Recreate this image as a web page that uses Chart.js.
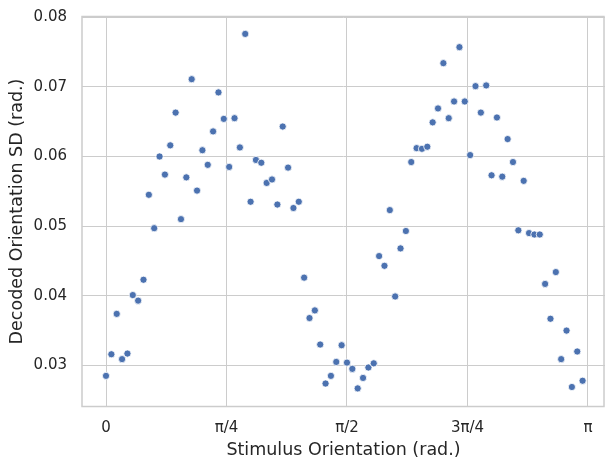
<!DOCTYPE html>
<html>
<head>
<meta charset="utf-8">
<script src="https://cdn.jsdelivr.net/npm/chart.js@4"></script>
<style>
  body { margin: 0; background: #ffffff; }
  #caja { width: 605px; height: 460px; position: relative; }
</style>
</head>
<body>
<div id="caja"><canvas id="grafica"></canvas></div>
<script>
// orientacion del estimulo en grados (paso de 2 grados)
const stimulusDeg = [
  0, 2, 4, 6, 8, 10, 12, 14, 16, 18, 20, 22, 24, 26, 28, 30, 32, 34, 36, 38,
  40, 42, 44, 46, 48, 50, 52, 54, 56, 58, 60, 62, 64, 66, 68, 70, 72, 74, 76, 78,
  80, 82, 84, 86, 88, 90, 92, 94, 96, 98, 100, 102, 104, 106, 108, 110, 112, 114, 116, 118,
  120, 122, 124, 126, 128, 130, 132, 134, 136, 138, 140, 142, 144, 146, 148, 150, 152, 154, 156, 158,
  160, 162, 164, 166, 168, 170, 172, 174, 176, 178
];

// desviacion estandar decodificada (rad.)
const decodedSD = [
  0.0285, 0.0316, 0.0374, 0.0309, 0.0317, 0.0401, 0.0393, 0.0423, 0.0545, 0.0497,
  0.0600, 0.0574, 0.0616, 0.0663, 0.0510, 0.0570, 0.0711, 0.0551, 0.0609, 0.0588,
  0.0636, 0.0692, 0.0654, 0.0585, 0.0655, 0.0613, 0.0776, 0.0535, 0.0595, 0.0591,
  0.0562, 0.0567, 0.0531, 0.0643, 0.0584, 0.0526, 0.0535, 0.0426, 0.0368, 0.0379,
  0.0330, 0.0274, 0.0285, 0.0305, 0.0329, 0.0304, 0.0295, 0.0267, 0.0282, 0.0297,
  0.0303, 0.0457, 0.0443, 0.0523, 0.0399, 0.0468, 0.0493, 0.0592, 0.0612, 0.0611,
  0.0614, 0.0649, 0.0669, 0.0734, 0.0655, 0.0679, 0.0757, 0.0679, 0.0602, 0.0701,
  0.0663, 0.0702, 0.0573, 0.0656, 0.0571, 0.0625, 0.0592, 0.0494, 0.0565, 0.0490,
  0.0488, 0.0488, 0.0417, 0.0367, 0.0434, 0.0309, 0.0350, 0.0269, 0.0320, 0.0278
];

const xTickValues = [0, Math.PI / 4, Math.PI / 2, 3 * Math.PI / 4, Math.PI];
const xTickLabels = ["0", "π/4", "π/2", "3π/4", "π"];
const yTickValues = [0.03, 0.04, 0.05, 0.06, 0.07, 0.08];
const yTickLabels = ["0.03", "0.04", "0.05", "0.06", "0.07", "0.08"];

const puntos = stimulusDeg.map((d, i) => ({ x: d * Math.PI / 180, y: decodedSD[i] }));

// marco completo alrededor del area del grafico
const marco = {
  id: "marco",
  afterDraw(chart) {
    const { ctx, chartArea: a } = chart;
    ctx.save();
    ctx.strokeStyle = "#cccccc";
    ctx.lineWidth = 1.5;
    ctx.strokeRect(a.left, a.top, a.right - a.left - 1, a.bottom - a.top);
    ctx.restore();
  }
};

const texto = "#262626";
const fuente = "'DejaVu Sans', sans-serif";

new Chart("grafica", {
  type: "scatter",
  data: {
    datasets: [{
      data: puntos,
      backgroundColor: "#4c72b0",
      borderColor: "#ffffff",
      borderWidth: 0.8,
      pointRadius: 3.6,
      pointHoverRadius: 3.6
    }]
  },
  options: {
    responsive: true,
    maintainAspectRatio: false,
    animation: false,
    layout: { autoPadding: false, padding: { top: 16.5, right: 0, bottom: 0, left: 0 } },
    plugins: { legend: { display: false }, tooltip: { enabled: false } },
    scales: {
      x: {
        type: "linear",
        min: -0.1565,
        max: 3.2527,
        afterFit: s => { s.height = 53.5; s.paddingLeft = 0; s.paddingRight = 0; },
        afterBuildTicks: s => { s.ticks = xTickValues.map(v => ({ value: v })); },
        ticks: {
          color: texto,
          font: { family: fuente, size: 15 },
          padding: 13,
          maxRotation: 0,
          callback: (v, i) => xTickLabels[i]
        },
        grid: { color: "#cccccc", lineWidth: 1, drawTicks: false },
        border: { display: false },
        title: {
          display: true,
          text: "Stimulus Orientation (rad.)",
          color: texto,
          font: { family: fuente, size: 17.5, lineHeight: 1 },
          padding: { top: 0, bottom: 1 }
        }
      },
      y: {
        type: "linear",
        min: 0.0241,
        max: 0.0801,
        afterFit: s => { s.width = 82; s.paddingTop = 0; s.paddingBottom = 0; },
        afterBuildTicks: s => { s.ticks = yTickValues.map(v => ({ value: v })); },
        ticks: {
          color: texto,
          font: { family: fuente, size: 15 },
          padding: 15,
          callback: (v, i) => yTickLabels[i]
        },
        grid: { color: "#cccccc", lineWidth: 1, drawTicks: false },
        border: { display: false },
        title: {
          display: true,
          text: "Decoded Orientation SD (rad.)",
          color: texto,
          font: { family: fuente, size: 17.5, lineHeight: 1 },
          padding: { top: 9, bottom: 0 }
        }
      }
    }
  },
  plugins: [marco]
});
</script>
</body>
</html>
